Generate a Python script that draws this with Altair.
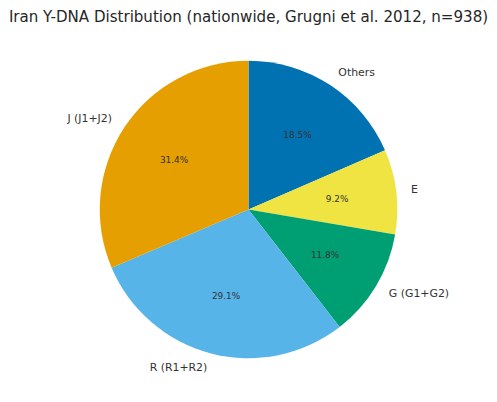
"""Iran Y-DNA haplogroup distribution pie chart."""

import altair as alt
import pandas as pd

# Slices in clockwise order from 12 o'clock
groups = ["Others", "E", "G (G1+G2)", "R (R1+R2)", "J (J1+J2)"]
shares = [18.5, 9.2, 11.8, 29.1, 31.4]
colors = ["#0072B2", "#F0E442", "#009E73", "#56B4E9", "#E69F00"]
label_side = ["right", "right", "right", "left", "left"]

_FONT = "DejaVu Sans"
_TEXT = "#333333"
_R = 150

df = pd.DataFrame(
    {
        "group": groups,
        "share": shares,
        "idx": list(range(len(groups))),
        "side": label_side,
    }
)

base = alt.Chart(df).encode(
    theta=alt.Theta("share:Q", stack=True),
    order=alt.Order("idx:Q"),
)

pie = base.mark_arc(outerRadius=_R, stroke=None).encode(
    color=alt.Color(
        "group:N",
        scale=alt.Scale(domain=groups, range=colors),
        legend=None,
    )
)

pct = base.transform_calculate(pct_label="format(datum.share, '.1f') + '%'").mark_text(
    radius=_R * 0.6, font=_FONT, fontSize=9, color=_TEXT, baseline="middle", align="center"
).encode(text="pct_label:N")

outer_right = base.mark_text(
    radius=_R * 1.1, font=_FONT, fontSize=11, color=_TEXT, baseline="middle", align="left"
).encode(
    text="group:N",
    opacity=alt.condition(alt.datum.side == "right", alt.value(1), alt.value(0)),
)

outer_left = base.mark_text(
    radius=_R * 1.1, font=_FONT, fontSize=11, color=_TEXT, baseline="middle", align="right"
).encode(
    text="group:N",
    opacity=alt.condition(alt.datum.side == "left", alt.value(1), alt.value(0)),
)

chart = (
    (pie + pct + outer_right + outer_left)
    .properties(
        width=481,
        height=367,
        padding=0,
        title=alt.TitleParams(
            "Iran Y-DNA Distribution (nationwide, Grugni et al. 2012, n=938)",
            font=_FONT,
            fontSize=15.2,
            fontWeight="normal",
            color="#262626",
            anchor="middle",
            dy=2,
        ),
    )
    .configure_view(stroke=None)
)

chart.save("out.html", embed_options={"renderer": "svg", "actions": False})
